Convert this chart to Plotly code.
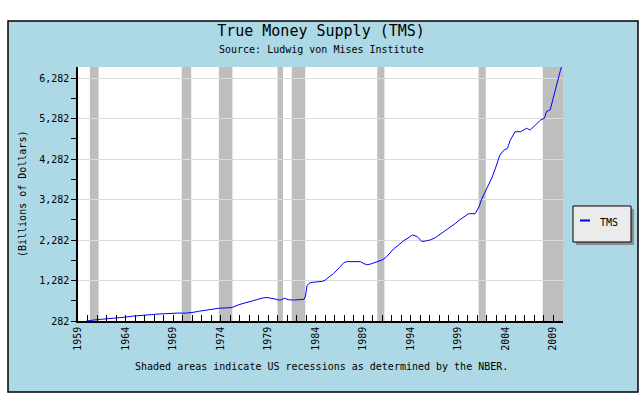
import plotly.graph_objects as go

# ---- data ----
years = [1959.92, 1960.3, 1960.8, 1961.5, 1962.0, 1962.8, 1963.5, 1964.0, 1964.7, 1965.4,
         1966.0, 1966.7, 1967.2, 1968.0, 1968.9, 1969.5, 1970.3, 1970.8, 1971.0, 1971.8,
         1972.8, 1973.3, 1973.8, 1974.5, 1975.2, 1975.9, 1976.5, 1977.0, 1977.5, 1978.0,
         1978.5, 1978.9, 1979.3, 1979.8, 1980.2, 1980.4, 1980.7, 1981.0, 1981.2, 1981.8,
         1982.2, 1982.6, 1982.8, 1982.95, 1983.1, 1983.3, 1983.5, 1984.0, 1984.7, 1985.0,
         1985.5, 1985.9, 1986.5, 1987.0, 1987.3, 1988.0, 1988.7, 1989.1, 1989.4, 1989.8,
         1990.5, 1991.0, 1991.4, 1991.8, 1992.2, 1992.8, 1993.3, 1993.8, 1994.2, 1994.7,
         1995.2, 1995.7, 1996.1, 1996.6, 1997.1, 1997.7, 1998.2, 1998.7, 1999.1, 1999.6,
         2000.1, 2000.8, 2001.2, 2001.5, 2001.9, 2002.3, 2002.6, 2003.0, 2003.4, 2003.8,
         2004.2, 2004.5, 2005.0, 2005.6, 2006.2, 2006.6, 2007.1, 2007.7, 2008.1, 2008.3,
         2008.7, 2009.0, 2009.4, 2009.75, 2009.88]
tms = [282, 298, 310, 325, 332, 348, 362, 378, 400, 420,
       432, 440, 450, 462, 474, 478, 476, 482, 492, 525,
       562, 585, 597, 605, 615, 683, 725, 760, 800, 835,
       855, 862, 850, 822, 798, 805, 845, 830, 805, 800,
       805, 803, 820, 900, 1150, 1210, 1232, 1245, 1260, 1290,
       1380, 1457, 1600, 1728, 1748, 1740, 1750, 1700, 1672, 1690,
       1750, 1790, 1850, 1960, 2060, 2170, 2270, 2340, 2410, 2370,
       2245, 2265, 2287, 2340, 2420, 2510, 2600, 2690, 2770, 2850,
       2933, 2935, 3100, 3300, 3510, 3700, 3840, 4100, 4380, 4500,
       4550, 4750, 4960, 4960, 5045, 5005, 5127, 5250, 5293, 5457,
       5500, 5790, 6120, 6450, 6560]

rec_start = [1960.25, 1969.92, 1973.83, 1980.0, 1981.5, 1990.5, 2001.17, 2007.92]
rec_end = [1961.17, 1970.92, 1975.25, 1980.58, 1982.92, 1991.25, 2001.92, 2010.05]

x_range = [1959, 2010.05]
y_range = [282, 6560]

# ---- layout geometry (pixels) ----
W, H = 642, 396
L, R, T, B = 78, 563, 67, 321
pw, ph = R - L, B - T


def px(xp):
    return (xp - L) / pw


def py(yp):
    return (B - yp) / ph


MONO = "DejaVu Sans Mono, monospace"

fig = go.Figure()
fig.add_trace(go.Scatter(x=years, y=tms, mode="lines", name="TMS",
                         line=dict(color="#0000ff", width=1), showlegend=False))

shapes = []
# outer light-blue frame with black border
shapes.append(dict(type="rect", xref="paper", yref="paper",
                   x0=px(8), x1=px(638), y0=py(392), y1=py(21),
                   fillcolor="#add8e6", line=dict(color="black", width=1.5),
                   layer="below"))
# white plot area
shapes.append(dict(type="rect", xref="paper", yref="paper",
                   x0=0, x1=1, y0=0, y1=1, fillcolor="white",
                   line=dict(width=0), layer="below"))
# recession shading
for s, e in zip(rec_start, rec_end):
    shapes.append(dict(type="rect", xref="x", yref="paper", x0=s, x1=e, y0=0, y1=1,
                       fillcolor="#bebebe", line=dict(width=0), layer="between"))
# legend box (shadow, box, line sample)
shapes.append(dict(type="rect", xref="paper", yref="paper",
                   x0=px(576), x1=px(634), y0=py(245), y1=py(209),
                   fillcolor="#8c8c8c", line=dict(width=0), layer="above"))
shapes.append(dict(type="rect", xref="paper", yref="paper",
                   x0=px(573), x1=px(631), y0=py(242), y1=py(206),
                   fillcolor="#ebebeb", line=dict(color="black", width=1), layer="above"))
shapes.append(dict(type="line", xref="paper", yref="paper",
                   x0=px(580), x1=px(590), y0=py(220.5), y1=py(220.5),
                   line=dict(color="#0000ff", width=2), layer="above"))

annotations = [
    dict(text="Source: Ludwig von Mises Institute", xref="paper", yref="paper",
         x=px(321), y=py(50), showarrow=False, xanchor="center", yanchor="middle",
         font=dict(family=MONO, size=10, color="black")),
    dict(text="Shaded areas indicate US recessions as determined by the NBER.",
         xref="paper", yref="paper", x=px(321), y=py(366), showarrow=False,
         xanchor="center", yanchor="middle",
         font=dict(family=MONO, size=10, color="black")),
    dict(text="(Billions of Dollars)", xref="paper", yref="paper", x=px(22), y=py(194),
         showarrow=False, textangle=-90, xanchor="center", yanchor="middle",
         font=dict(family=MONO, size=10, color="black")),
    dict(text="TMS", xref="paper", yref="paper", x=px(598), y=py(222),
         showarrow=False, xanchor="left", yanchor="middle",
         font=dict(family=MONO, size=10, color="black")),
]

fig.update_layout(
    width=W, height=H,
    margin=dict(l=L, r=W - R, t=T, b=H - B, pad=0),
    paper_bgcolor="white", plot_bgcolor="white",
    title=dict(text="True Money Supply (TMS)", x=px(321), xref="paper",
               y=1 - 31 / H, yref="container", xanchor="center", yanchor="middle",
               font=dict(family=MONO, size=15, color="black")),
    shapes=shapes, annotations=annotations,
    showlegend=False,
    xaxis=dict(range=x_range, tickmode="linear", tick0=1959, dtick=5, tickformat="d",
               ticks="inside", ticklen=6, tickcolor="black", tickwidth=1,
               tickangle=-90, showgrid=False, zeroline=False,
               showline=True, linecolor="black", linewidth=1.5,
               tickfont=dict(family=MONO, size=10, color="black"),
               minor=dict(dtick=1, tick0=1959, ticks="inside", ticklen=6,
                          tickcolor="black", showgrid=False)),
    yaxis=dict(range=y_range, tickmode="linear", tick0=282, dtick=1000, tickformat=",d",
               ticks="outside", ticklen=5, tickcolor="black", tickwidth=1,
               showgrid=True, gridcolor="#dcdcdc", gridwidth=1, zeroline=False,
               showline=True, linecolor="black", linewidth=1.5,
               tickfont=dict(family=MONO, size=10, color="black"),
               minor=dict(dtick=500, tick0=282, ticks="outside", ticklen=5,
                          tickcolor="black", showgrid=False)),
    font=dict(family=MONO, color="black"),
)

fig.write_html("out.html", config={"displayModeBar": False},
               post_script="document.body.style.margin='0';")
